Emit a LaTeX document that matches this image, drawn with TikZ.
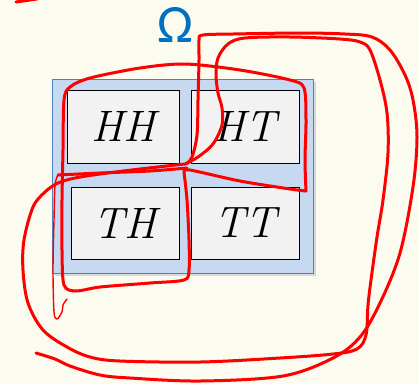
\documentclass[tikz,border=0pt]{standalone}
\usepackage{fontspec}
\newfontfamily\omegafont{Carlito}
\definecolor{bgcream}{RGB}{251,251,239}
\definecolor{omblue}{RGB}{0,112,192}
\definecolor{panelfill}{RGB}{198,217,241}
\definecolor{paneledge}{RGB}{79,129,189}
\definecolor{boxfill}{RGB}{242,242,242}
\begin{document}
\begin{tikzpicture}[x=1pt,y=-1pt,
  ink/.style={draw=red, line width=3pt, line cap=round, line join=round},
  thinink/.style={draw=red, line width=1.4pt, line cap=round, line join=round},
  outcome/.style={draw=black, line width=0.8pt, fill=boxfill, inner sep=0pt,
    font=\fontsize{44}{44}\selectfont\itshape}]
\fill[bgcream] (0,0) rectangle (419,384);
\useasboundingbox (0,0) rectangle (419,384);
% panel with shadow
\fill[black!15] (55,82) rectangle (315.5,275.5);
\node[draw=paneledge, fill=panelfill, line width=0.8pt, minimum width=261pt,
  minimum height=194pt, inner sep=0pt] (panel) at (182.5,176) {};
\node[outcome, minimum width=112pt, minimum height=73pt] (hh) at (123,126.5) {HH};
\node[outcome, minimum width=108pt, minimum height=73pt] (ht) at (245,126.5) {HT};
\node[outcome, minimum width=108pt, minimum height=72pt] (th) at (125,223) {TH};
\node[outcome, minimum width=108pt, minimum height=72pt] (tt) at (245,223) {TT};
\node[text=omblue, font=\omegafont\fontsize{54}{54}\selectfont, inner sep=0pt] (omega) at (175,25) {Ω};
% red ink strokes
\draw[ink] (16,2) -- (37,-1);
% loop around HH, HT, TH
\draw[ink] plot[smooth, tension=0.5] coordinates {
  (184,172) (187,200) (189,240) (189,270) (184,280) (150,283) (100,287) (76,291)
  (64,285) (62,250) (62,200) (63,150) (64,100) (70,87) (90,78) (140,68) (185,64)
  (240,70) (290,80) (304,88) (306,120) (305,160) (306,191)};
\draw[ink] plot[smooth, tension=0.5] coordinates {(306,191) (290,189) (240,181) (190,170) (184,172)};
% horizontal with thin tail
\draw[ink] plot[smooth, tension=0.5] coordinates {(187,168) (150,171) (100,173) (58,175)};
\draw[thinink] plot[smooth, tension=0.5] coordinates {(58,175) (55,185) (54,220) (53,270) (54,312) (57,319) (62,312) (63,305) (67,299)};
% loop around HT, TT, TH
\draw[ink] plot[smooth, tension=0.55] coordinates {
  (185,164) (198,157) (213,144) (222,125) (222,108) (218,93) (216,75) (218,58)
  (228,44) (245,38) (290,37) (340,39) (360,42) (370,50) (380,80) (387,113)
  (388,153) (383,200) (377,237) (371,280) (368,305) (366,335) (357,349) (333,354)
  (280,358) (200,362) (120,361) (90,357) (67,347) (43,330) (28,303) (23,270)
  (24,240) (33,207) (45,192) (58,183) (75,178) (100,174) (140,169) (185,164)};
% outer open loop
\draw[ink] plot[smooth, tension=0.55] coordinates {
  (186,164) (192,157) (197,135) (198,100) (199,60) (199,40) (203,35) (233,34)
  (300,33) (345,34) (372,37) (390,50) (405,75) (413,100) (417,137) (413,187)
  (400,253) (380,303) (360,337) (333,358) (283,376) (200,381) (130,378) (100,375)
  (70,366) (55,359) (36,353)};
\end{tikzpicture}
\end{document}
